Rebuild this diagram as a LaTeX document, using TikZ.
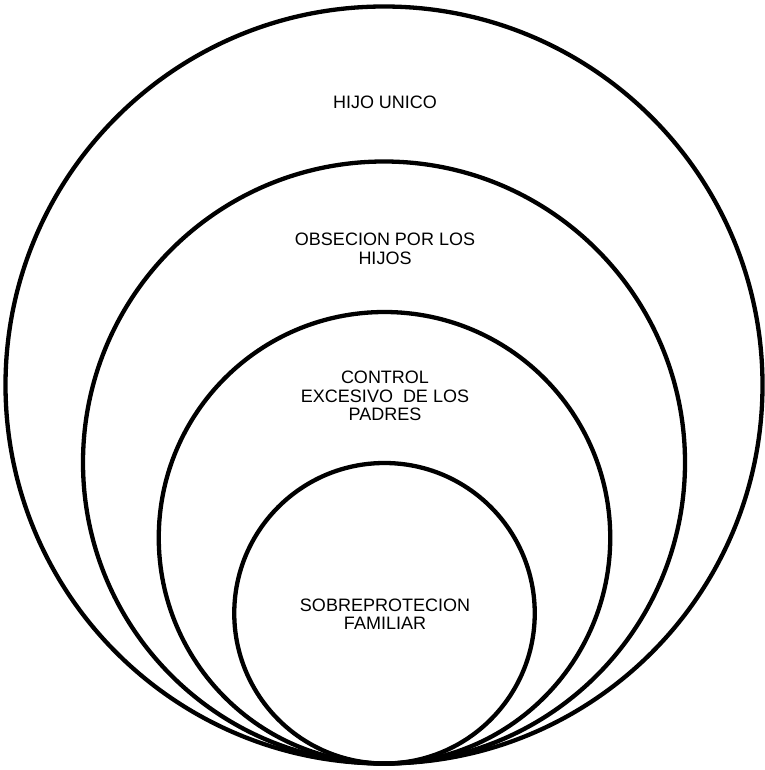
\documentclass[tikz,border=0pt]{standalone}
\usepackage{fontspec}
\setmainfont{Liberation Sans}
\tikzset{
  ring/.style={circle,draw,line width=4.3pt,inner sep=0pt},
  lbl/.style={align=center,font=\fontsize{18}{18.5}\selectfont}
}
\begin{document}
\begin{tikzpicture}[x=1pt,y=-1pt]
      \useasboundingbox (0,0) rectangle (764,770);
      \draw
        (384,385) node[ring,minimum size=757pt] (unico){}
        (384,462.5) node[ring,minimum size=602pt] (obsesion){}
        (384.5,537.75) node[ring,minimum size=451.5pt] (control){}
        (384.5,613.25) node[ring,minimum size=300.5pt] (sobre){};
      \begin{scope}[lbl]
        \node (t1) at (385,102) {HIJO UNICO};
        \node (t2) at (385,249) {OBSECION POR LOS\\HIJOS};
        \node (t3) at (385,396) {CONTROL\\EXCESIVO\ \ DE LOS\\PADRES};
        \node (t4) at (385,614) {SOBREPROTECION\\FAMILIAR};
      \end{scope}
    \end{tikzpicture}
\end{document}
